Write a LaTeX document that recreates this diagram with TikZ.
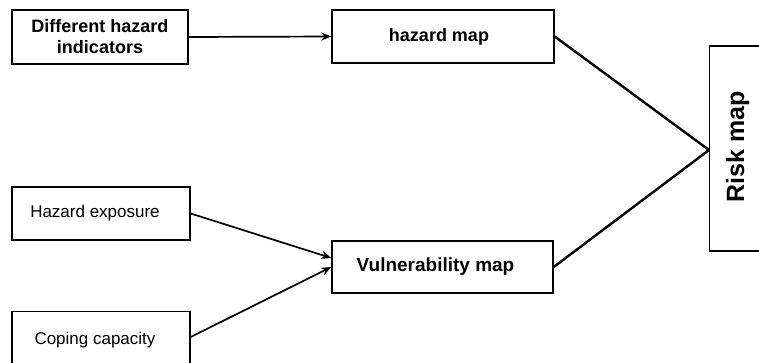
\documentclass[tikz,border=0pt]{standalone}
\usepackage{fontspec}
\setmainfont{Liberation Sans}
\usetikzlibrary{arrows.meta,calc}
\begin{document}
\begin{tikzpicture}[x=1pt,y=-1pt,
  box/.style={draw=black, line width=1.4pt, fill=white, inner sep=0pt, align=center},
  boldtxt/.style={font=\bfseries\fontsize{18}{21}\selectfont},
  plaintxt/.style={font=\fontsize{17}{20}\selectfont},
  arr/.style={line width=1.7pt, -{Stealth[length=10pt,width=8pt]}},
  thick line/.style={line width=2.4pt}]
\fill[white] (0,0) rectangle (759,362);
\useasboundingbox (0,0) rectangle (759,362);
\clip (0,0) rectangle (759,362);

\node[box, boldtxt, minimum width=176, minimum height=54] (dhi) at (100,37) {Different hazard\\indicators};
\node[box, boldtxt, minimum width=222, minimum height=53] (hm) at (443,36.5) {\hspace*{-8pt}hazard map};
\node[box, plaintxt, minimum width=178, minimum height=53] (he) at (101,213.5) {\hspace*{-12pt}Hazard exposure};
\node[box, boldtxt, minimum width=221, minimum height=52] (vm) at (442.5,267) {\hspace*{-14pt}\fontsize{19}{22}\selectfont Vulnerability map};
\node[box, plaintxt, minimum width=178, minimum height=56, anchor=north] (cc) at (101,311) {\hspace*{-12pt}\raisebox{3pt}{Coping capacity}};
\node[box, minimum width=70, minimum height=205, anchor=west] (rm) at (709,148.5) {};
\node[font=\bfseries\fontsize{25}{28}\selectfont, rotate=90, anchor=base] (rmt) at (744,147) {Risk map};

\draw[arr] (dhi.east) -- (hm.west);
\draw[arr] (he.east) -- ($(vm.west)+(0,-9)$);
\draw[arr] ($(cc.north east)+(0,26)$) -- (vm.west);
\draw[thick line] (hm.east) -- ($(rm.west)+(0,1.5)$);
\draw[thick line] (vm.east) -- ($(rm.west)+(0,1.5)$);
\end{tikzpicture}
\end{document}
